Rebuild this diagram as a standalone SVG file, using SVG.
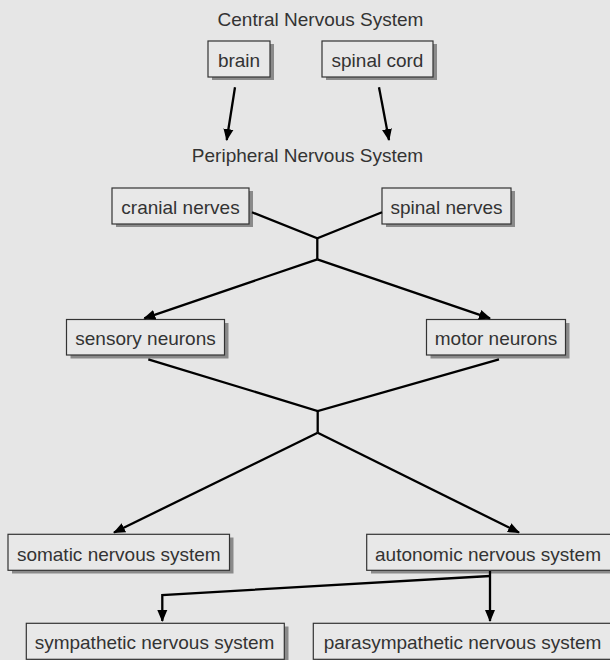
<svg xmlns="http://www.w3.org/2000/svg" width="610" height="660" viewBox="0 0 610 660">
<style>
.bg{fill:#e6e6e6}
.box{fill:#e8e8e8;stroke:#333;stroke-width:1.2}
.sh{fill:#8a8a8a}
.t{font-family:"Liberation Sans",Arial,sans-serif;font-size:19px;fill:#333;text-anchor:middle}
.c{fill:none;stroke:#000;stroke-width:2.3;stroke-linejoin:miter}
</style>
<defs>
<marker id="ah" markerUnits="userSpaceOnUse" markerWidth="12" markerHeight="11" viewBox="0 0 12 11" refX="11" refY="5.5" orient="auto">
<path d="M0,0.5 L12,5.5 L0,10.5 z" fill="#000"/>
</marker>
</defs>
<rect class="bg" x="0" y="0" width="610" height="660"/>

<text class="t" x="320.5" y="26">Central Nervous System</text>
<text class="t" x="307.5" y="162">Peripheral Nervous System</text>

<g id="brain">
<rect class="sh" x="212" y="44" width="62" height="36"/>
<rect class="box" x="208" y="41" width="62" height="36"/>
<text class="t" x="239" y="67">brain</text>
</g>
<g id="spinal-cord">
<rect class="sh" x="326" y="44" width="111" height="36"/>
<rect class="box" x="322" y="41" width="111" height="36"/>
<text class="t" x="377.5" y="67">spinal cord</text>
</g>
<g id="cranial-nerves">
<rect class="sh" x="116" y="191" width="137" height="36"/>
<rect class="box" x="112" y="188" width="137" height="36"/>
<text class="t" x="180.5" y="213.5">cranial nerves</text>
</g>
<g id="spinal-nerves">
<rect class="sh" x="386" y="191" width="129" height="36"/>
<rect class="box" x="382" y="188" width="129" height="36"/>
<text class="t" x="446.5" y="213.5">spinal nerves</text>
</g>
<g id="sensory-neurons">
<rect class="sh" x="70.5" y="323" width="158" height="35.5"/>
<rect class="box" x="66.5" y="319.5" width="158" height="35.5"/>
<text class="t" x="145.5" y="345">sensory neurons</text>
</g>
<g id="motor-neurons">
<rect class="sh" x="430.5" y="323" width="139" height="35.5"/>
<rect class="box" x="426.5" y="319.5" width="139" height="35.5"/>
<text class="t" x="496" y="345">motor neurons</text>
</g>
<g id="somatic">
<rect class="sh" x="12" y="537.5" width="221.5" height="36"/>
<rect class="box" x="8" y="534.3" width="221.5" height="36"/>
<text class="t" x="118.8" y="560.5">somatic nervous system</text>
</g>
<g id="autonomic">
<rect class="sh" x="371" y="537.5" width="245" height="36"/>
<rect class="box" x="366.7" y="534.3" width="245" height="36"/>
<text class="t" x="488" y="560.5">autonomic nervous system</text>
</g>
<g id="sympathetic">
<rect class="sh" x="30.5" y="626.5" width="258" height="36"/>
<rect class="box" x="26.3" y="623.3" width="258" height="36"/>
<text class="t" x="154.5" y="649">sympathetic nervous system</text>
</g>
<g id="parasympathetic">
<rect class="sh" x="317.5" y="626.5" width="300" height="36"/>
<rect class="box" x="313.3" y="623.3" width="300" height="36"/>
<text class="t" x="462.5" y="649">parasympathetic nervous system</text>
</g>

<g id="connectors">
<line class="c" x1="235" y1="87.3" x2="226.7" y2="140" marker-end="url(#ah)"/>
<line class="c" x1="379" y1="87.3" x2="389" y2="140" marker-end="url(#ah)"/>
<polyline class="c" points="252,212.3 317.3,238.3 382,212.3"/>
<line class="c" x1="317.3" y1="238.3" x2="317.3" y2="259.3"/>
<line class="c" x1="317.3" y1="259.3" x2="144.3" y2="318.3" marker-end="url(#ah)"/>
<line class="c" x1="317.3" y1="259.3" x2="490" y2="318.3" marker-end="url(#ah)"/>
<polyline class="c" points="148.3,359.3 317.7,411 499,359.3"/>
<line class="c" x1="317.7" y1="411" x2="317.7" y2="432.7"/>
<line class="c" x1="317.7" y1="432.7" x2="114" y2="532.5" marker-end="url(#ah)"/>
<line class="c" x1="317.7" y1="432.7" x2="519" y2="532.5" marker-end="url(#ah)"/>
<line class="c" x1="490" y1="571" x2="490" y2="621" marker-end="url(#ah)"/>
<polyline class="c" points="490,576 162.3,595 162.3,621" marker-end="url(#ah)"/>
</g>
</svg>
